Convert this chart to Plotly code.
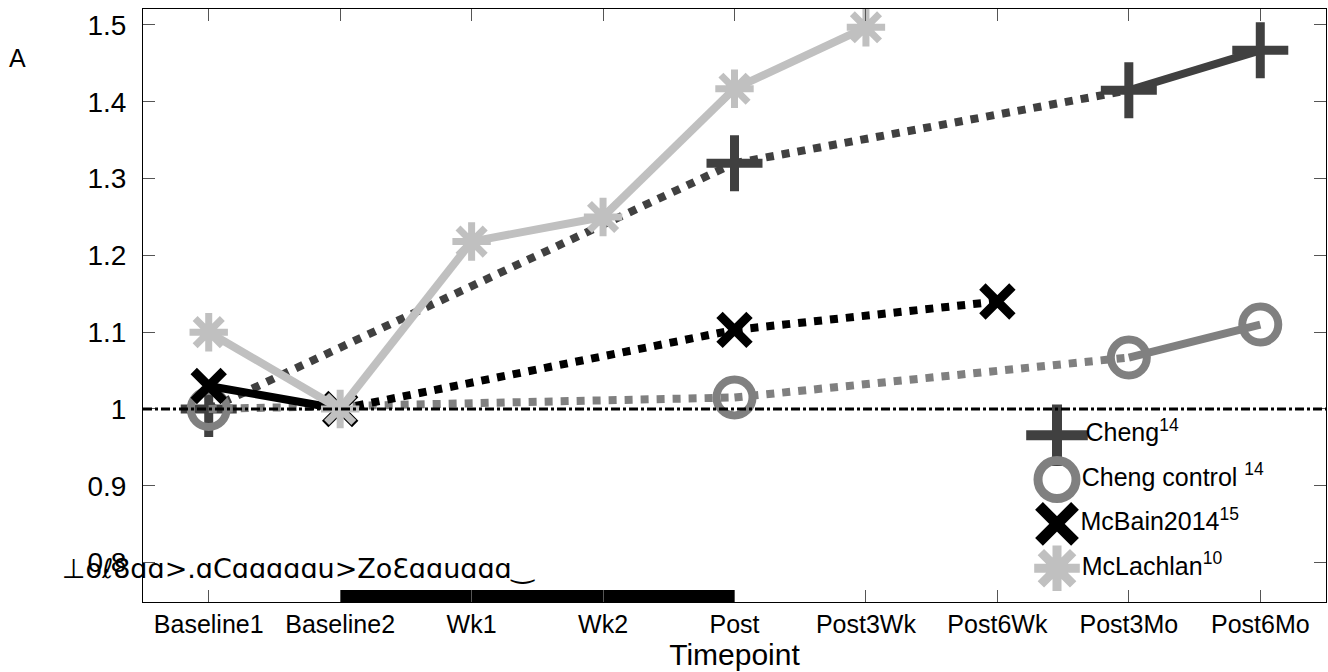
import plotly.graph_objects as go

timepoints = ["Baseline1", "Baseline2", "Wk1", "Wk2", "Post", "Post3Wk", "Post6Wk", "Post3Mo", "Post6Mo"]

cheng = [1.0, None, None, None, 1.32, None, None, 1.415, 1.467]
cheng_control = [1.0, None, None, None, 1.015, None, None, 1.067, 1.11]
mcbain = [1.03, 1.0, None, None, 1.103, None, 1.14, None, None]
mclachlan = [1.10, 1.0, 1.218, 1.25, 1.417, 1.497, None, None, None]

series_names = ["Cheng<sup>14</sup>", "Cheng control <sup>14</sup>", "McBain2014<sup>15</sup>", "McLachlan<sup>10</sup>"]
series_values = [cheng, cheng_control, mcbain, mclachlan]
series_colors = ["#404040", "#808080", "#000000", "#c0c0c0"]
series_symbols = ["cross-thin", "circle-open", "x-thin", "asterisk-open"]
series_sizes = [40, 36, 30, 32]
series_mlw = [9, 8, 9, 7]
legend_sizes = [44, 38, 36, 38]
legend_mlw = [10, 9, 11, 9]

y_ticks = [0.8, 0.9, 1.0, 1.1, 1.2, 1.3, 1.4, 1.5]
y_ticktext = ["0.8", "0.9", "1", "1.1", "1.2", "1.3", "1.4", "1.5"]

baseline_value = 1.0
intervention_start = "Baseline2"
intervention_end = "Post"
intervention_bar_y = 0.7565

y_range = [0.7487, 1.5208]

fig = go.Figure()


def segments(vals):
    pts = [(i, v) for i, v in enumerate(vals) if v is not None]
    solid_x, solid_y, dot_x, dot_y = [], [], [], []
    for (i0, v0), (i1, v1) in zip(pts[:-1], pts[1:]):
        if i1 - i0 == 1:
            solid_x += [timepoints[i0], timepoints[i1], None]
            solid_y += [v0, v1, None]
        else:
            dot_x += [timepoints[i0], timepoints[i1], None]
            dot_y += [v0, v1, None]
    return solid_x, solid_y, dot_x, dot_y


for name, vals, col, sym, sz, mlw in zip(series_names, series_values, series_colors,
                                          series_symbols, series_sizes, series_mlw):
    sx, sy, dx, dy = segments(vals)
    if dx:
        fig.add_trace(go.Scatter(x=dx, y=dy, mode="lines", showlegend=False,
                                 line=dict(color=col, width=8, dash="dot"), hoverinfo="skip"))
    if sx:
        fig.add_trace(go.Scatter(x=sx, y=sy, mode="lines", showlegend=False,
                                 line=dict(color=col, width=8), hoverinfo="skip"))
    fig.add_trace(go.Scatter(x=timepoints, y=vals, mode="markers", name=name, showlegend=False,
                             marker=dict(symbol=sym, size=sz, color=col,
                                         line=dict(color=col, width=mlw))))

# reference line at 1 across the full plot width
fig.add_shape(type="line", xref="paper", yref="y", x0=0, x1=1, y0=baseline_value, y1=baseline_value,
              line=dict(color="black", width=3, dash="dashdot"), layer="above")

# intervention bar
fig.add_trace(go.Scatter(x=[intervention_start, intervention_end],
                         y=[intervention_bar_y, intervention_bar_y], mode="lines",
                         showlegend=False, line=dict(color="black", width=12), hoverinfo="skip"))

# custom legend (large markers) on an overlay axis, one row per series
n = len(series_names)
for k, (name, col, sym, sz, mlw) in enumerate(zip(series_names, series_colors, series_symbols,
                                                   legend_sizes, legend_mlw)):
    fig.add_trace(go.Scatter(x=[0], y=[n - 1 - k], mode="markers+text", text=[name],
                             textposition="middle right",
                             textfont=dict(size=25, color="black"),
                             marker=dict(symbol=sym, size=sz, color=col,
                                         line=dict(color=col, width=mlw)),
                             xaxis="x2", yaxis="y2", showlegend=False, hoverinfo="skip",
                             cliponaxis=False))

font_family = "Liberation Sans, Arial, sans-serif"

fig.update_layout(
    width=1328, height=672,
    margin=dict(l=143, r=2, t=9, b=70),
    plot_bgcolor="white", paper_bgcolor="white",
    font=dict(family=font_family, size=22, color="black"),
    showlegend=False,
    xaxis=dict(type="category", categoryorder="array", categoryarray=timepoints,
               range=[-0.5, 8.5], showgrid=False, zeroline=False,
               showline=True, linecolor="black", linewidth=1, mirror="ticks",
               ticks="inside", ticklen=12, tickcolor="#555555", tickwidth=1,
               tickfont=dict(size=25), ticklabelstandoff=0,
               title=dict(text="Timepoint", font=dict(size=30), standoff=0)),
    yaxis=dict(range=y_range, showgrid=False, zeroline=False,
               showline=True, linecolor="black", linewidth=1, mirror="ticks",
               ticks="inside", ticklen=12, tickcolor="#555555", tickwidth=1,
               tickvals=y_ticks, ticktext=y_ticktext,
               tickfont=dict(size=28), ticklabelstandoff=10),
    xaxis2=dict(overlaying="x", domain=[0, 1], range=[-9.14, 2.69], visible=False,
                fixedrange=True),
    yaxis2=dict(overlaying="y", domain=[0, 1], range=[-0.76, 12.61], visible=False,
                fixedrange=True),
)

fig.add_annotation(text="A", xref="paper", yref="paper", x=-0.106, y=0.917,
                   xanchor="center", yanchor="middle", showarrow=False,
                   font=dict(size=25))

fig.add_annotation(text="⊥oℓ8ɑɑ>.ɑCɑɑɑɑɑu>ZoƐɑɑuɑɑɑ‿", xref="paper", yref="paper",
                   x=-0.070, y=0.057, xanchor="left", yanchor="middle", showarrow=False,
                   font=dict(size=27, family="DejaVu Sans"), bgcolor="rgba(0,0,0,0)")

fig.write_html("out.html")
